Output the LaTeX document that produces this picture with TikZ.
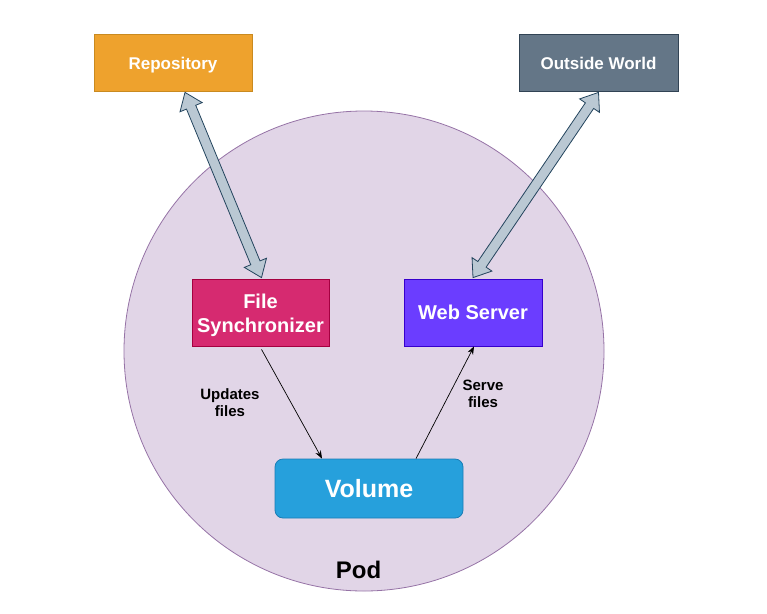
\documentclass[tikz,border=0pt]{standalone}
\usepackage{fontspec}
\setmainfont{Liberation Sans}
\usetikzlibrary{calc,arrows.meta}
\definecolor{podfill}{HTML}{E1D5E7}
\definecolor{podline}{HTML}{9673A6}
\definecolor{repofill}{HTML}{EEA22D}
\definecolor{repoline}{HTML}{C98A20}
\definecolor{owfill}{HTML}{647687}
\definecolor{owline}{HTML}{314354}
\definecolor{fsfill}{HTML}{D62A70}
\definecolor{fsline}{HTML}{A50040}
\definecolor{wsfill}{HTML}{6B3DFF}
\definecolor{wsline}{HTML}{3700CC}
\definecolor{volfill}{HTML}{26A0DC}
\definecolor{volline}{HTML}{1A7DB5}
\definecolor{arrfill}{HTML}{BAC8D3}
\definecolor{arrline}{HTML}{23445D}
\newcommand{\dblarrow}[2]{%
  \draw[bigarrow] (#1)
   -- ($(#1)!16pt!(#2)!12pt!90:(#2)$)
   -- ($(#1)!16pt!(#2)!5pt!90:(#2)$)
   -- ($(#2)!16pt!(#1)!5pt!-90:(#1)$)
   -- ($(#2)!16pt!(#1)!12pt!-90:(#1)$)
   -- (#2)
   -- ($(#2)!16pt!(#1)!12pt!90:(#1)$)
   -- ($(#2)!16pt!(#1)!5pt!90:(#1)$)
   -- ($(#1)!16pt!(#2)!5pt!-90:(#2)$)
   -- ($(#1)!16pt!(#2)!12pt!-90:(#2)$)
   -- cycle;}
\begin{document}
\begin{tikzpicture}[x=1pt,y=-1pt,
  box/.style={draw, line width=0.8pt, inner sep=0pt, text=white, align=center},
  topbox/.style={box, minimum height=57pt, text height=14pt, text depth=0pt,
    font=\bfseries\fontsize{17}{20}\selectfont},
  bigarrow/.style={draw=arrline, fill=arrfill, line width=0.8pt, line join=miter},
  thin arrow/.style={draw=black, line width=0.7pt, -{Stealth[length=8pt,width=6pt]}},
  lbl/.style={font=\bfseries\fontsize{15}{17}\selectfont, align=center, inner sep=0pt}]
\useasboundingbox (0,0) rectangle (767,613);
\node[circle, draw=podline, fill=podfill, line width=0.8pt, minimum size=480pt, inner sep=0pt] (pod) at (364,351) {};
\node[font=\bfseries\fontsize{24}{28}\selectfont, inner sep=0pt] (podlabel) at (358.5,570) {Pod};
\node[topbox, fill=repofill, draw=repoline, minimum width=158pt] (repo) at (173,62.5) {Repository};
\node[topbox, fill=owfill, draw=owline, minimum width=159pt] (ow) at (598.5,62.5) {Outside World};
\node[box, fill=fsfill, draw=fsline, minimum width=137pt, minimum height=67pt,
  font=\bfseries\fontsize{20}{24}\selectfont] (fs) at (260.5,312.5) {\rule{0pt}{20.5pt}File\\Synchronizer};
\node[box, fill=wsfill, draw=wsline, minimum width=138pt, minimum height=67pt,
  font=\bfseries\fontsize{20}{24}\selectfont] (ws) at (473,312.5) {Web Server};
\node[box, fill=volfill, draw=volline, rounded corners=8pt, minimum width=188pt, minimum height=59pt,
  font=\bfseries\fontsize{25}{30}\selectfont] (vol) at (369,488.5) {Volume};
\coordinate (repoA) at ($(repo.south)+(12,1)$);
\coordinate (fsA) at ($(fs.north)+(1,-1)$);
\coordinate (owA) at ($(ow.south)+(0,1)$);
\coordinate (wsA) at ($(ws.north)+(0,-1)$);
\dblarrow{repoA}{fsA}
\dblarrow{owA}{wsA}
\coordinate (fsB) at ($(fs.south)+(1,3)$);
\coordinate (volL) at ($(vol.north)+(-47,0)$);
\coordinate (volR) at ($(vol.north)+(47,0)$);
\coordinate (wsB) at ($(ws.south)+(1,0)$);
\draw[thin arrow] (fsB) -- (volL);
\draw[thin arrow] (volR) -- (wsB);
\node[lbl] (upd) at (230,403) {Updates\\files};
\node[lbl] (srv) at (483,394) {Serve\\files};
\end{tikzpicture}
\end{document}
